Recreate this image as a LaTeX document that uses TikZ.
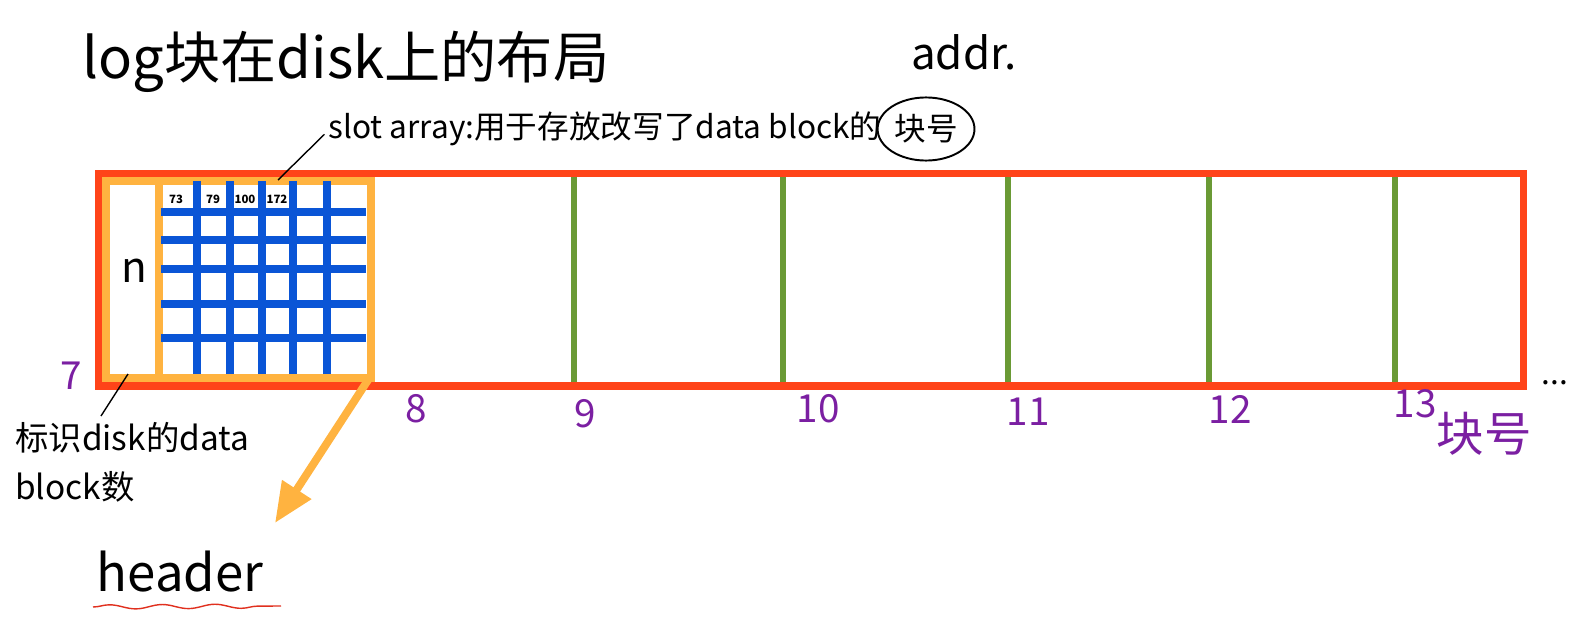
\documentclass[tikz,border=0pt]{standalone}
\usepackage{fontspec}
\usepackage{xcolor}
\newfontfamily\cjk{Noto Sans CJK SC}
\usetikzlibrary{positioning, arrows.meta, shapes.geometric, decorations.pathmorphing}

\definecolor{logred}{HTML}{FF4419}
\definecolor{hdrorange}{HTML}{FFB340}
\definecolor{slotblue}{HTML}{0A55D6}
\definecolor{blkgreen}{HTML}{6A9A35}
\definecolor{numpurple}{HTML}{7B1FA2}
\definecolor{wavered}{HTML}{E0301E}

\begin{document}
\begin{tikzpicture}[x=0.02cm, y=-0.02cm,
  every node/.style={font=\cjk, inner sep=0pt},
  logbox/.style={draw=logred, line width=4pt},
  hdrbox/.style={draw=hdrorange, line width=4.5pt},
  slotline/.style={draw=slotblue, line width=4pt},
  blkline/.style={draw=blkgreen, line width=3.4pt},
  blknum/.style={text=numpurple, font=\cjk\fontsize{22}{26}\selectfont},
  note/.style={font=\cjk\fontsize{18}{22}\selectfont},
  slotnum/.style={font=\cjk\bfseries\fontsize{6.5}{8}\selectfont}]
  \useasboundingbox (0,0) rectangle (1583,635);

  % Nodes
  \node (title) at (346,62) {\fontsize{32}{38}\selectfont log块在disk上的布局};
  \node (addr) at (964,52) {\fontsize{25}{30}\selectfont addr.};
  \node[note, anchor=west] (slot) at (328,129) {slot array:用于存放改写了data block的};
  \node[note, draw, line width=1.1pt, ellipse, inner xsep=1.5pt, inner ysep=4.5pt, right=-3pt of slot] (blkno) {块号};

  % Log block
  \draw[logbox] (99,173.5) rectangle (1523,386);
  \foreach \gx in {574,783,1008,1209,1395}
    \draw[blkline] (\gx,177) -- (\gx,382);

  % Header with slot array
  \draw[hdrbox] (106,181) rectangle (371,378);
  \draw[hdrbox] (159,181) -- (159,378);
  \foreach \hy in {212,240,269,304,338}
    \draw[slotline] (161,\hy) -- (366,\hy);
  \foreach \vx in {197,230,262,293,327}
    \draw[slotline] (\vx,181) -- (\vx,374);
  \node[slotnum] (s73) at (176,199) {73};
  \node[slotnum] (s79) at (213,199) {79};
  \node[slotnum] (s100) at (245,199) {100};
  \node[slotnum] (s172) at (277,199) {172};
  \node (cnt) at (134,271) {\fontsize{24}{28}\selectfont n};

  % Block numbers
  \foreach \bx/\by/\bn in {71/376/7, 416/409/8, 585/414/9, 818/409/10,
                           1028/412/11, 1230/409/12, 1415/404/13}
    \node[blknum] (b\bn) at (\bx,\by) {\bn};
  \node[blknum, font=\cjk\fontsize{27}{30}\selectfont] (unit) at (1484,434) {块号};
  \node (more) at (1555,383) {\fontsize{18}{20}\selectfont ...};

  % Notes
  \node[anchor=north west, align=left, font=\cjk\fontsize{19}{28}\selectfont] (cntnote) at (15,422)
    {标识disk的data\\block数};
  \node (header) at (180,572) {\fontsize{29}{34}\selectfont header};

  % Arrows
  \coordinate (slotgrid) at (278,180);
  \coordinate (cntcell) at (128,374);
  \coordinate (cntend) at (101,416);
  \coordinate (hdrcorner) at (368,380);
  \coordinate (hdrtip) at (275,523);
  \coordinate (wavestart) at (93,607);
  \coordinate (waveend) at (281,606);
  \draw[thick] ([xshift=-2pt,yshift=-3pt]slot.west) -- (slotgrid);
  \draw[thick] (cntcell) -- (cntend);
  \draw[draw=hdrorange, line width=4.5pt, -{Triangle[length=0.8cm, width=0.66cm]}] (hdrcorner) -- (hdrtip);
  \draw[draw=wavered, thick, decorate, decoration={snake, amplitude=1.2pt, segment length=30pt}]
    (wavestart) -- (waveend);
\end{tikzpicture}
\end{document}
